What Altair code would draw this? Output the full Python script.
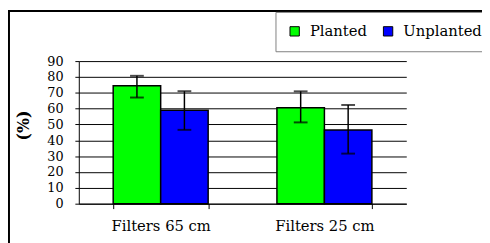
import altair as alt
import pandas as pd

groups = ["Filters 65 cm", "Filters 65 cm", "Filters 25 cm", "Filters 25 cm"]
series = ["Planted", "Unplanted", "Planted", "Unplanted"]
values = [74.5, 59.0, 60.6, 46.5]
err_low = [67.0, 46.6, 51.3, 31.6]
err_high = [80.7, 71.0, 70.9, 62.3]
y_ticks = [0, 10, 20, 30, 40, 50, 60, 70, 80, 90]

df = pd.DataFrame({"group": groups, "series": series, "value": values,
                   "low": err_low, "high": err_high})

cat_order = ["Filters 65 cm", "Filters 25 cm"]
ser_order = ["Planted", "Unplanted"]

W, H = 333, 145
PAD = {"left": 72, "top": 52, "right": 77, "bottom": 38}

xaxis = alt.Axis(labelAngle=0, tickBand="extent", grid=False,
                 domainColor="black", tickColor="black", tickSize=5,
                 labelFont="DejaVu Serif", labelFontSize=15,
                 labelColor="black", labelPadding=10)
xscale = alt.Scale(paddingInner=0.42, paddingOuter=0.21)
xoff = alt.XOffset("series:N", sort=ser_order,
                   scale=alt.Scale(paddingInner=0, paddingOuter=0))
yscale = alt.Scale(domain=[0, 90], nice=False, zero=True)
yaxis = alt.Axis(values=y_ticks, tickCount=10, grid=True,
                 labelOverlap=False,
                 gridColor="black", gridWidth=1, gridOpacity=1,
                 domainColor="black", tickColor="black", tickSize=4,
                 labelFont="DejaVu Serif", labelFontSize=13,
                 labelColor="black", labelPadding=12,
                 titleFont="DejaVu Serif", titleFontSize=16,
                 titleFontWeight="bold", titleColor="black",
                 titleX=-56, titleY=65, titleBaseline="middle")


def X():
    return alt.X("group:N", sort=cat_order, title=None, scale=xscale, axis=xaxis)


def Y(field):
    return alt.Y(field, scale=yscale, title="(%)", axis=yaxis)


border = alt.Chart(pd.DataFrame({"a": [0]})).mark_rect(
    fillOpacity=0, stroke="black", strokeWidth=2
).encode(
    x=alt.value(-71), x2=alt.value(W + PAD["right"] + 10),
    y=alt.value(-51), y2=alt.value(H + PAD["bottom"] + 10)
)

bars = alt.Chart(df).mark_bar(stroke="black", strokeWidth=1.5).encode(
    x=X(),
    xOffset=xoff,
    y=Y("value:Q"),
    color=alt.Color("series:N", sort=ser_order,
                    scale=alt.Scale(domain=ser_order, range=["#00FF00", "#0000FF"]),
                    legend=alt.Legend(title=None, orient="none", legendX=200,
                                      legendY=-50, direction="horizontal",
                                      fillColor="white", strokeColor="#808080",
                                      padding=12, symbolType="square",
                                      symbolSize=90, symbolStrokeColor="black",
                                      symbolStrokeWidth=1,
                                      labelFont="DejaVu Serif", labelFontSize=15,
                                      labelColor="black", labelOffset=8,
                                      columnPadding=13, labelLimit=0))
)

rules = alt.Chart(df).mark_rule(color="black", strokeWidth=1.5).encode(
    x=X(),
    xOffset=xoff,
    y=Y("low:Q"),
    y2="high:Q"
)

caps_hi = alt.Chart(df).mark_tick(color="black", thickness=2, size=14).encode(
    x=X(),
    xOffset=xoff,
    y=Y("high:Q")
)
caps_lo = alt.Chart(df).mark_tick(color="black", thickness=2, size=14).encode(
    x=X(),
    xOffset=xoff,
    y=Y("low:Q")
)

chart = alt.layer(border, bars, rules, caps_hi, caps_lo).properties(
    width=W, height=H,
    autosize=alt.AutoSizeParams(type="none"),
    padding=PAD,
    background="white"
).configure_view(stroke=None).configure_legend(
    labelFont="DejaVu Serif", labelFontSize=15, labelColor="black"
)

chart.save("out.html", embed_options={"renderer": "svg", "actions": False})
